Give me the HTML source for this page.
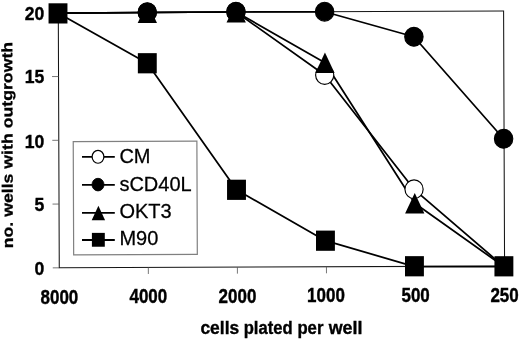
<!DOCTYPE html><html><head><meta charset="utf-8"><title>chart</title><style>html,body{margin:0;padding:0;background:#fff}svg{display:block;will-change:transform}text{font-family:"Liberation Sans",Arial,sans-serif;fill:#000}</style></head><body>
<svg width="520" height="339" viewBox="0 0 520 339">
<rect width="520" height="339" fill="#fff"/>
<g transform="rotate(-0.22 260 170)">
<rect x="58.9" y="12.0" width="445.3" height="255.05" fill="none" stroke="#151515" stroke-width="1.05"/>
<line x1="52.4" y1="267.05" x2="58.9" y2="267.05" stroke="#555" stroke-width="0.8"/>
<line x1="52.4" y1="203.29" x2="58.9" y2="203.29" stroke="#555" stroke-width="0.8"/>
<line x1="52.4" y1="139.53" x2="58.9" y2="139.53" stroke="#555" stroke-width="0.8"/>
<line x1="52.4" y1="75.76" x2="58.9" y2="75.76" stroke="#555" stroke-width="0.8"/>
<line x1="52.4" y1="12.00" x2="58.9" y2="12.00" stroke="#555" stroke-width="0.8"/>
<line x1="147.96" y1="267.05" x2="147.96" y2="273.55" stroke="#555" stroke-width="0.8"/>
<line x1="237.02" y1="267.05" x2="237.02" y2="273.55" stroke="#555" stroke-width="0.8"/>
<line x1="326.08" y1="267.05" x2="326.08" y2="273.55" stroke="#555" stroke-width="0.8"/>
<line x1="415.14" y1="267.05" x2="415.14" y2="273.55" stroke="#555" stroke-width="0.8"/>
</g>
<polyline points="58.00,13.10 147.30,12.50 236.00,12.00 324.70,75.00 414.05,189.30 503.80,266.55" fill="none" stroke="#000" stroke-width="1.75" stroke-linejoin="round"/>
<polyline points="58.00,13.10 147.25,12.50 235.90,12.00 324.60,11.75 413.90,36.75 503.60,138.75" fill="none" stroke="#000" stroke-width="1.75" stroke-linejoin="round"/>
<polyline points="58.00,13.10 147.35,12.50 236.20,12.00 324.95,62.75 414.75,203.30 503.90,266.55" fill="none" stroke="#000" stroke-width="1.75" stroke-linejoin="round"/>
<polyline points="58.00,13.10 147.30,63.25 236.50,189.80 325.45,240.70 414.45,266.55 503.90,266.55" fill="none" stroke="#000" stroke-width="1.75" stroke-linejoin="round"/>
<ellipse cx="147.30" cy="12.40" rx="9.1" ry="9.4" fill="#fff" stroke="#000" stroke-width="1.15"/>
<ellipse cx="236.00" cy="11.90" rx="9.1" ry="9.4" fill="#fff" stroke="#000" stroke-width="1.15"/>
<ellipse cx="324.70" cy="75.00" rx="9.1" ry="9.4" fill="#fff" stroke="#000" stroke-width="1.15"/>
<ellipse cx="414.05" cy="189.30" rx="9.1" ry="9.4" fill="#fff" stroke="#000" stroke-width="1.15"/>
<ellipse cx="147.25" cy="12.30" rx="9.2" ry="9.4" fill="#000" stroke="#000" stroke-width="1.1"/>
<ellipse cx="235.90" cy="11.80" rx="9.2" ry="9.4" fill="#000" stroke="#000" stroke-width="1.1"/>
<ellipse cx="324.60" cy="11.70" rx="9.2" ry="9.4" fill="#000" stroke="#000" stroke-width="1.1"/>
<ellipse cx="413.90" cy="36.75" rx="9.2" ry="9.4" fill="#000" stroke="#000" stroke-width="1.1"/>
<ellipse cx="503.60" cy="138.75" rx="9.2" ry="9.4" fill="#000" stroke="#000" stroke-width="1.1"/>
<polygon points="147.35,2.50 157.00,23.00 137.70,23.00" fill="#000"/>
<polygon points="236.20,1.90 245.85,22.40 226.55,22.40" fill="#000"/>
<polygon points="324.95,52.50 334.60,73.00 315.30,73.00" fill="#000"/>
<polygon points="414.75,193.05 424.40,213.55 405.10,213.55" fill="#000"/>
<rect x="48.55" y="3.30" width="18.9" height="20.2" fill="#000"/>
<rect x="137.85" y="53.15" width="18.9" height="20.2" fill="#000"/>
<rect x="227.05" y="179.70" width="18.9" height="20.2" fill="#000"/>
<rect x="316.00" y="230.60" width="18.9" height="20.2" fill="#000"/>
<rect x="405.00" y="256.15" width="18.9" height="20.2" fill="#000"/>
<rect x="494.45" y="256.20" width="18.9" height="20.2" fill="#000"/>
<g transform="rotate(-0.22 135.3 198)">
<rect x="73.45" y="141.4" width="123.65" height="113.25" fill="#fff" stroke="#808080" stroke-width="1.2"/>
</g>
<line x1="82.0" y1="156.8" x2="114.8" y2="156.8" stroke="#000" stroke-width="1.85"/>
<ellipse cx="98.00" cy="156.80" rx="5.9" ry="6.45" fill="#fff" stroke="#000" stroke-width="1.2"/>
<text transform="translate(119.4,162.7) scale(1,1.03)" font-size="20" stroke="#000" stroke-width="0.25">CM</text>
<line x1="82.0" y1="184.8" x2="114.8" y2="184.8" stroke="#000" stroke-width="1.85"/>
<ellipse cx="98.00" cy="184.60" rx="6.0" ry="6.3" fill="#000" stroke="#000" stroke-width="0.9"/>
<text transform="translate(119.4,190.5) scale(1,1.03)" font-size="20" stroke="#000" stroke-width="0.25">sCD40L</text>
<line x1="82.0" y1="212.8" x2="114.8" y2="212.8" stroke="#000" stroke-width="1.85"/>
<polygon points="98.40,205.85 105.10,220.15 91.70,220.15" fill="#000"/>
<text transform="translate(119.4,218.2) scale(1,1.03)" font-size="20" stroke="#000" stroke-width="0.25">OKT3</text>
<line x1="82.0" y1="240.0" x2="114.8" y2="240.0" stroke="#000" stroke-width="1.85"/>
<rect x="91.90" y="232.88" width="12.9" height="13.85" fill="#000"/>
<text transform="translate(119.4,245.4) scale(1,1.03)" font-size="20" stroke="#000" stroke-width="0.25">M90</text>
<text transform="translate(44.2,19.8) scale(1,1.09)" font-size="17.6" font-weight="bold" text-anchor="end" stroke="#000" stroke-width="0.35">20</text>
<text transform="translate(44.2,83.3) scale(1,1.09)" font-size="17.6" font-weight="bold" text-anchor="end" stroke="#000" stroke-width="0.35">15</text>
<text transform="translate(44.2,147.6) scale(1,1.09)" font-size="17.6" font-weight="bold" text-anchor="end" stroke="#000" stroke-width="0.35">10</text>
<text transform="translate(44.2,211.1) scale(1,1.09)" font-size="17.6" font-weight="bold" text-anchor="end" stroke="#000" stroke-width="0.35">5</text>
<text transform="translate(44.2,275.0) scale(1,1.09)" font-size="17.6" font-weight="bold" text-anchor="end" stroke="#000" stroke-width="0.35">0</text>
<text transform="translate(59.4,303.5) scale(1,1.145)" font-size="17" font-weight="bold" text-anchor="middle" stroke="#000" stroke-width="0.35">8000</text>
<text transform="translate(148.35,302.8) scale(1,1.145)" font-size="17" font-weight="bold" text-anchor="middle" stroke="#000" stroke-width="0.35">4000</text>
<text transform="translate(237.45,302.6) scale(1,1.145)" font-size="17" font-weight="bold" text-anchor="middle" stroke="#000" stroke-width="0.35">2000</text>
<text transform="translate(326.0,302.1) scale(1,1.145)" font-size="17" font-weight="bold" text-anchor="middle" stroke="#000" stroke-width="0.35">1000</text>
<text transform="translate(415.6,301.8) scale(1,1.145)" font-size="17" font-weight="bold" text-anchor="middle" stroke="#000" stroke-width="0.35">500</text>
<text transform="translate(504.55,301.7) scale(1,1.145)" font-size="17" font-weight="bold" text-anchor="middle" stroke="#000" stroke-width="0.35">250</text>
<text transform="scale(1,1.06)" font-size="17" font-weight="bold" stroke="#000" stroke-width="0.35"><tspan x="200.4" y="315.47" textLength="38.8" lengthAdjust="spacingAndGlyphs">cells</tspan> <tspan x="243.7" y="315.19" textLength="48.9" lengthAdjust="spacingAndGlyphs">plated</tspan> <tspan x="297.4" y="314.91" textLength="26.0" lengthAdjust="spacingAndGlyphs">per</tspan> <tspan x="328.7" y="314.72" textLength="33.7" lengthAdjust="spacingAndGlyphs">well</tspan></text>
<text transform="translate(12.5,145.1) rotate(-90.22) scale(1,0.86)" font-size="17.5" font-weight="bold" text-anchor="middle" textLength="206.4" lengthAdjust="spacingAndGlyphs" stroke="#000" stroke-width="0.35">no. wells with outgrowth</text>
</svg></body></html>
